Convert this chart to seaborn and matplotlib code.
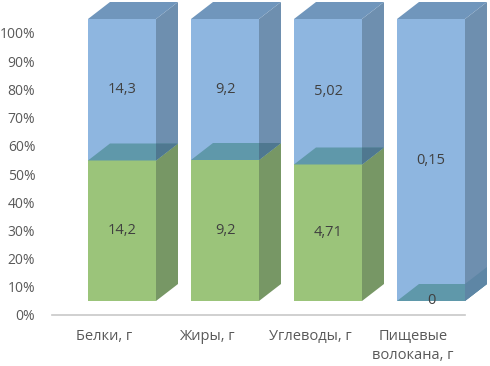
import numpy as np
import pandas as pd
import matplotlib
matplotlib.use('Agg')
import matplotlib.pyplot as plt
from matplotlib.patches import Polygon
from matplotlib.transforms import ScaledTranslation
import seaborn as sns

# --- данные ---
categories = ['Белки, г', 'Жиры, г', 'Углеводы, г', 'Пищевые\nволокана, г']
green_vals = [14.2, 9.2, 4.71, 0]
blue_vals = [14.3, 9.2, 5.02, 0.15]
green_labels = ['14,2', '9,2', '4,71', '0']
blue_labels = ['14,3', '9,2', '5,02', '0,15']

# --- цвета ---
blue_front = '#8EB6E0'
blue_side = '#6E8FAF'
blue_top = '#7096BC'
green_front = '#9BC47A'
green_side = '#779765'
green_top = '#5F98AA'
text_col = '#595959'

sns.set_theme(style='white')
plt.rcParams['font.family'] = ['Open Sans', 'DejaVu Sans']

df = pd.DataFrame({'cat': categories, 'green': green_vals, 'blue': blue_vals})
df['total'] = df['green'] + df['blue']
df['green_pct'] = df['green'] / df['total'] * 100
df['full_pct'] = 100.0

W, H = 490, 366
fig = plt.figure(figsize=(W / 100, H / 100), dpi=100)
# ось: 0% на y=315, 100% на y=33, x от 52 до 465 пикселей
ax = fig.add_axes([52 / W, (H - 315) / H, (465 - 52) / W, 315 / H])

bar_w = 68 / 103
sns.barplot(data=df, x='cat', y='full_pct', color=blue_front, width=bar_w,
            saturation=1, ax=ax, zorder=2)
sns.barplot(data=df, x='cat', y='green_pct', color=green_front, width=bar_w,
            saturation=1, ax=ax, zorder=3)

px_x = 103.0      # пикселей на категорию
px_y = 282 / 100  # пикселей на 1%
ax.set_xlim(-(122 - 52) / px_x, (465 - 122) / px_x)
ax.set_ylim(0, 315 / px_y)

# смещение передних граней вверх (пол 3D)
lift = ScaledTranslation(0, 14 / 100, fig.dpi_scale_trans)
trans = ax.transData + lift
dx = 22 / px_x
dy = 17 / px_y

n = len(categories)
blue_bars = ax.patches[:n]
green_bars = ax.patches[n:2 * n]


def box_faces(x0, w, y0, y1, side_col, top_col, z):
    x1 = x0 + w
    side = Polygon([(x1, y0), (x1 + dx, y0 + dy), (x1 + dx, y1 + dy), (x1, y1)],
                   closed=True, facecolor=side_col, edgecolor='none',
                   transform=trans, zorder=z, clip_on=False)
    top = Polygon([(x0, y1), (x0 + dx, y1 + dy), (x1 + dx, y1 + dy), (x1, y1)],
                  closed=True, facecolor=top_col, edgecolor='none',
                  transform=trans, zorder=z, clip_on=False)
    ax.add_patch(side)
    ax.add_patch(top)


for i in range(n):
    b = blue_bars[i]
    g = green_bars[i]
    for p in (b, g):
        p.set_transform(trans)
        p.set_clip_on(False)
        p.set_edgecolor('none')
    x0, w = b.get_x(), b.get_width()
    gh = g.get_height()
    # синяя часть: боковая и верхняя грани
    box_faces(x0, w, gh, 100, blue_side, blue_top, 2.5)
    # зелёная часть
    if gh > 0:
        box_faces(x0, w, 0, gh, green_side, green_top, 3.5)
    else:
        # верх нулевого сегмента виден сквозь синий
        top = Polygon([(x0, 0), (x0 + dx, dy), (x0 + w + dx, dy), (x0 + w, 0)],
                      closed=True, facecolor=green_top, edgecolor='none',
                      transform=trans, zorder=3.5, clip_on=False)
        ax.add_patch(top)
        side = Polygon([(x0 + w, 0), (x0 + w + dx, dy), (x0 + w + dx, 2 * dy), (x0 + w, dy)],
                       closed=True, facecolor='#5E86A5', edgecolor='none',
                       transform=trans, zorder=3.5, clip_on=False)
        ax.add_patch(side)
    # тёмная полоса на боковой грани у границы сегментов
    if gh > 0:
        band = Polygon([(x0 + w, gh), (x0 + w + dx, gh + dy), (x0 + w + dx, gh + dy),
                        (x0 + w, gh + dy)],
                       closed=True, facecolor='#4F7890', edgecolor='none',
                       transform=trans, zorder=3.6, clip_on=False)
        ax.add_patch(band)

    # подписи значений
    cx = x0 + w / 2
    ax.text(cx, gh + (100 - gh) / 2, blue_labels[i], transform=trans,
            ha='center', va='center', fontsize=10.5, color='#404040', zorder=6)
    gy = gh / 2 if gh > 0 else 0
    ax.text(cx, gy, green_labels[i], transform=trans,
            ha='center', va='center', fontsize=10.5, color='#404040', zorder=6)

# оси
ax.set_yticks(np.arange(0, 101, 10))
ax.set_yticklabels([f'{v}%' for v in range(0, 101, 10)])
ax.set_xlabel('')
ax.set_ylabel('')
ax.tick_params(axis='both', length=0, colors=text_col, labelsize=10.5)
ax.tick_params(axis='y', labelsize=10, pad=12)
ax.tick_params(axis='x', pad=10)
ax.set_xticks(range(n))
ax.set_xticklabels(categories, linespacing=1.4)
shift = ScaledTranslation(-18 / 100, 0, fig.dpi_scale_trans)
for lab in ax.get_xticklabels():
    lab.set_transform(lab.get_transform() + shift)
    lab.set_va('top')

for s in ['top', 'right', 'left']:
    ax.spines[s].set_visible(False)
ax.spines['bottom'].set_color('#C8C8C8')
ax.spines['bottom'].set_linewidth(1.2)
ax.grid(False)
ax.set_facecolor('none')

fig.savefig('out.png', dpi=100)
